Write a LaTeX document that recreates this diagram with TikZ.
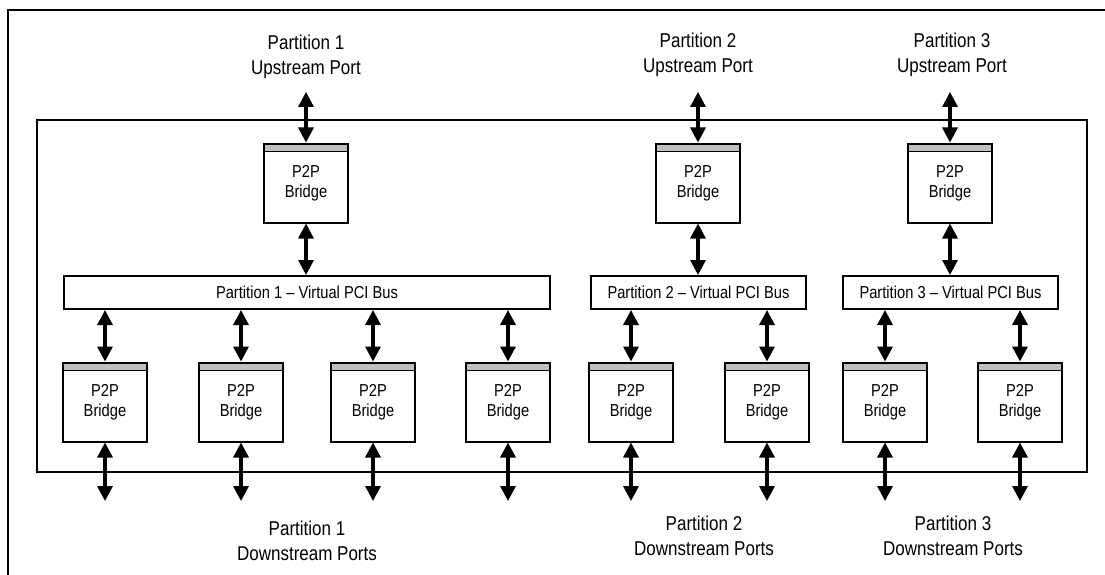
\documentclass[tikz,border=0pt]{standalone}
\usepackage{fontspec}
\setmainfont[FakeStretch=0.85]{Liberation Sans}
\usetikzlibrary{arrows.meta,positioning}

\tikzset{
  bridge/.style={draw, line width=2pt, fill=white, minimum width=84pt, minimum height=79pt,
    align=center, inner sep=0pt, font=\fontsize{17.3}{20}\selectfont,
    path picture={
      \fill[gray!50] (path picture bounding box.north west) rectangle
        ([yshift=-8pt]path picture bounding box.north east);
      \draw[line width=1.6pt] ([yshift=-8pt]path picture bounding box.north west) --
        ([yshift=-8pt]path picture bounding box.north east);}},
  bus/.style={draw, line width=2pt, minimum height=33pt, inner sep=0pt,
    font=\fontsize{17.3}{20}\selectfont},
  port/.style={align=center, inner sep=0pt, font=\fontsize{20}{25}\selectfont},
  link/.style={line width=3.3pt,
    {Triangle[width=15pt,length=15pt]}-{Triangle[width=15pt,length=15pt]}}
}

\begin{document}
\begin{tikzpicture}[x=1pt, y=-1pt]
  \useasboundingbox (0,0) rectangle (1105,575);
%      outer frame and switch outline
  \draw [line width=2pt] (8,575) -- (8,10) -- (1105,10);
  \draw [line width=2.2pt] (37,120) rectangle (1087,472);

%      upstream side
  \node [port] (up1) at (306,57) {Partition 1\\Upstream Port};
  \node [port] (up2) at (698,55) {Partition 2\\Upstream Port};
  \node [port] (up3) at (952,55) {Partition 3\\Upstream Port};
  \foreach \x [count=\i] in {306,698,950} {
    \coordinate (u\i top) at (\x,92);
    \node [bridge] (u\i) at (\x,183) {P2P\\Bridge};
  }

%      virtual buses
  \node [bus, minimum width=486pt] (bus1) at (307,292.5) {Partition 1 -- Virtual PCI Bus};
  \node [bus, minimum width=215pt] (bus2) at (698.5,292.5) {Partition 2 -- Virtual PCI Bus};
  \node [bus, minimum width=215pt] (bus3) at (950.5,292.5) {Partition 3 -- Virtual PCI Bus};

  \foreach \i in {1,2,3} {
    \draw [link] (u\i top) -- (u\i.north);
    \draw [link] (u\i.south) -- (u\i.south |- bus\i.north);
  }

%      downstream side
  \foreach \x/\b [count=\i] in {105/1,241/1,373/1,508/1,631/2,767/2,885/3,1020/3} {
    \node [bridge] (d\i) at (\x,402) {P2P\\Bridge};
    \coordinate (d\i end) at (\x,501);
    \draw [link] (d\i.north |- bus\b.south) -- (d\i.north);
    \draw [link] (d\i.south) -- (d\i end);
  }

  \node [port] (dn1) at (307,540.5) {Partition 1\\Downstream Ports};
  \node [port] (dn2) at (704,535.5) {Partition 2\\Downstream Ports};
  \node [port] (dn3) at (953,535.5) {Partition 3\\Downstream Ports};
\end{tikzpicture}
\end{document}
